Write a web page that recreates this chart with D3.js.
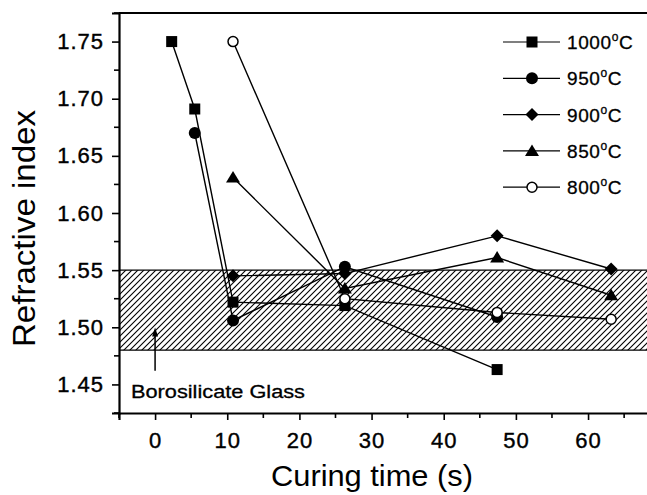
<!DOCTYPE html>
<style type="text/css">
body {
    margin: 0;
    background: #fff;
    font-family: 'Liberation Sans', Arial, sans-serif;
}
</style>

<body>
    <svg width="647" height="495"></svg>
    <script src="https://cdnjs.cloudflare.com/ajax/libs/d3/7.8.5/d3.min.js"></script>
    <script>
    // curing time values as they sit on the printed axis
    var times = [2.3, 5.5, 10.8, 26.3, 47.4, 63.2]

    var seriesNames = ['1000', '950', '900', '850', '800']
    var s1000 = [[times[0], 1.750], [times[1], 1.691], [times[2], 1.522], [times[3], 1.519], [times[4], 1.463]]
    var s950 = [[times[1], 1.670], [times[2], 1.506], [times[3], 1.553], [times[4], 1.509]]
    var s900 = [[times[2], 1.545], [times[3], 1.547], [times[4], 1.580], [times[5], 1.551]]
    var s850 = [[times[2], 1.631], [times[3], 1.534], [times[4], 1.561], [times[5], 1.528]]
    var s800 = [[times[2], 1.750], [times[3], 1.525], [times[4], 1.513], [times[5], 1.507]]

    var glassBand = [1.48, 1.55]
    var xTicks = [0, 10, 20, 30, 40, 50, 60]
    var yTicks = [1.45, 1.50, 1.55, 1.60, 1.65, 1.70, 1.75]

    var series = [s1000, s950, s900, s850, s800]
    var shapes = ['square', 'circle', 'diamond', 'triangle', 'open']

    var svg = d3.select('svg')
    var pLeft = 119, pTop = 13, pBottom = 413, pRight = 653

    var x = d3.scaleLinear().domain([-5, 69]).range([pLeft, pRight])
    var y = d3.scaleLinear().domain([1.425, 1.775]).range([pBottom, pTop])

    // hatch pattern for the glass band
    var pat = svg.append('defs').append('pattern')
        .attr('id', 'hatch')
        .attr('patternUnits', 'userSpaceOnUse')
        .attr('width', 6).attr('height', 6)
    pat.append('path')
        .attr('d', 'M-1,7 L7,-1 M-2,2 L2,-2 M4,8 L8,4')
        .attr('stroke', '#000').attr('stroke-width', 1.1)

    var clip = svg.append('clipPath').attr('id', 'plot')
    clip.append('rect').attr('x', pLeft).attr('y', pTop - 8).attr('width', 647 - pLeft).attr('height', pBottom - pTop + 8)

    svg.append('rect')
        .attr('x', pLeft).attr('width', 647 - pLeft)
        .attr('y', y(glassBand[1])).attr('height', y(glassBand[0]) - y(glassBand[1]))
        .attr('fill', 'url(#hatch)')
    svg.selectAll('.band-edge')
        .data(glassBand)
        .enter().append('line')
        .attr('x1', pLeft).attr('x2', 647)
        .attr('y1', d => y(d)).attr('y2', d => y(d))
        .attr('stroke', '#000').attr('stroke-width', 1.3)

    // arrow + label
    svg.append('line')
        .attr('x1', x(0)).attr('x2', x(0))
        .attr('y1', y(1.462)).attr('y2', y(1.494))
        .attr('stroke', '#000').attr('stroke-width', 1.5)
    svg.append('path')
        .attr('d', 'M' + (x(0) - 3) + ',' + (y(1.492)) + ' L' + x(0) + ',' + (y(1.492) - 9) + ' L' + (x(0) + 3) + ',' + y(1.492) + 'Z')
        .attr('fill', '#000')
    svg.append('text')
        .attr('x', 131).attr('y', 398)
        .attr('font-size', 18)
        .attr('stroke', '#000').attr('stroke-width', 0.3)
        .attr('textLength', 174).attr('lengthAdjust', 'spacingAndGlyphs')
        .text('Borosilicate Glass')

    // axes
    var xAxis = svg.append('g').attr('transform', 'translate(0,' + pBottom + ')')
        .call(d3.axisBottom(x).tickValues(xTicks).tickSize(7).tickPadding(12).tickFormat(d3.format('d')))
    xAxis.selectAll('.minor').data(d3.range(-5, 70, 10)).enter().append('line')
        .attr('x1', d => x(d)).attr('x2', d => x(d)).attr('y1', 0).attr('y2', 5)
        .attr('stroke', '#000').attr('stroke-width', 1.6)

    var yAxis = svg.append('g').attr('transform', 'translate(' + pLeft + ',0)')
        .call(d3.axisLeft(y).tickValues(yTicks).tickSize(7).tickPadding(8).tickFormat(d3.format('.2f')))
    yAxis.selectAll('.minor').data(d3.range(1.425, 1.78, 0.05)).enter().append('line')
        .attr('x1', 0).attr('x2', -5).attr('y1', d => y(d)).attr('y2', d => y(d))
        .attr('stroke', '#000').attr('stroke-width', 1.6)

    svg.selectAll('.domain').attr('stroke-width', 2.2)
    svg.selectAll('.tick line').attr('stroke-width', 1.6)
    svg.selectAll('.tick text')
        .attr('font-family', "'Liberation Sans', Arial, sans-serif")
        .attr('font-size', 22).attr('letter-spacing', 1).attr('fill', '#000')
        .attr('stroke', '#000').attr('stroke-width', 0.4)

    svg.append('line')
        .attr('x1', pLeft).attr('x2', 647).attr('y1', pTop).attr('y2', pTop)
        .attr('stroke', '#000').attr('stroke-width', 2.2)

    svg.append('text')
        .attr('x', 271).attr('y', 486)
        .attr('font-size', 29)
        .attr('textLength', 202).attr('lengthAdjust', 'spacingAndGlyphs')
        .text('Curing time (s)')
    svg.append('text')
        .attr('transform', 'translate(35,347) rotate(-90)')
        .attr('font-size', 31)
        .attr('textLength', 237).attr('lengthAdjust', 'spacingAndGlyphs')
        .text('Refractive index')

    function drawMarker(g, shape) {
        if (shape == 'square') {
            g.append('rect').attr('x', -5.5).attr('y', -5.5).attr('width', 11).attr('height', 11).attr('fill', '#000')
        } else if (shape == 'circle') {
            g.append('circle').attr('r', 6).attr('fill', '#000')
        } else if (shape == 'diamond') {
            g.append('path').attr('d', 'M0,-6.5 L6.5,0 L0,6.5 L-6.5,0Z').attr('fill', '#000')
        } else if (shape == 'triangle') {
            g.append('path').attr('d', 'M0,-6.5 L7,5 L-7,5Z').attr('fill', '#000')
        } else {
            g.append('circle').attr('r', 5).attr('fill', '#fff').attr('stroke', '#000').attr('stroke-width', 1.5)
        }
    }

    var line = d3.line().x(d => x(d[0])).y(d => y(d[1]))
    var plot = svg.append('g').attr('clip-path', 'url(#plot)')

    series.forEach(function(s) {
        plot.append('path')
            .attr('d', line(s))
            .attr('fill', 'none')
            .attr('stroke', '#000')
            .attr('stroke-width', 1.4)
    })
    series.forEach(function(s, i) {
        s.forEach(function(d) {
            var g = plot.append('g').attr('transform', 'translate(' + x(d[0]) + ',' + y(d[1]) + ')')
            drawMarker(g, shapes[i])
        })
    })

    // legend
    var legend = svg.selectAll('.legend')
        .data(seriesNames)
        .enter().append('g')
        .attr('class', 'legend')
        .attr('transform', (d, i) => 'translate(0,' + (42 + i * 36.3) + ')')
    legend.append('line')
        .attr('x1', 503).attr('x2', 560).attr('y1', 0).attr('y2', 0)
        .attr('stroke', '#000').attr('stroke-width', 1.2)
    legend.each(function(d, i) {
        var g = d3.select(this).append('g').attr('transform', 'translate(532,0)')
        drawMarker(g, shapes[i])
    })
    var lt = legend.append('text')
        .attr('x', 567).attr('y', 7)
        .attr('font-size', 19).attr('letter-spacing', 0.6)
        .attr('stroke', '#000').attr('stroke-width', 0.3)
    lt.append('tspan').text(d => d)
    lt.append('tspan').attr('dy', -8).attr('font-size', 12).text('o')
    lt.append('tspan').attr('dy', 8).text('C')
    </script>
</body>
